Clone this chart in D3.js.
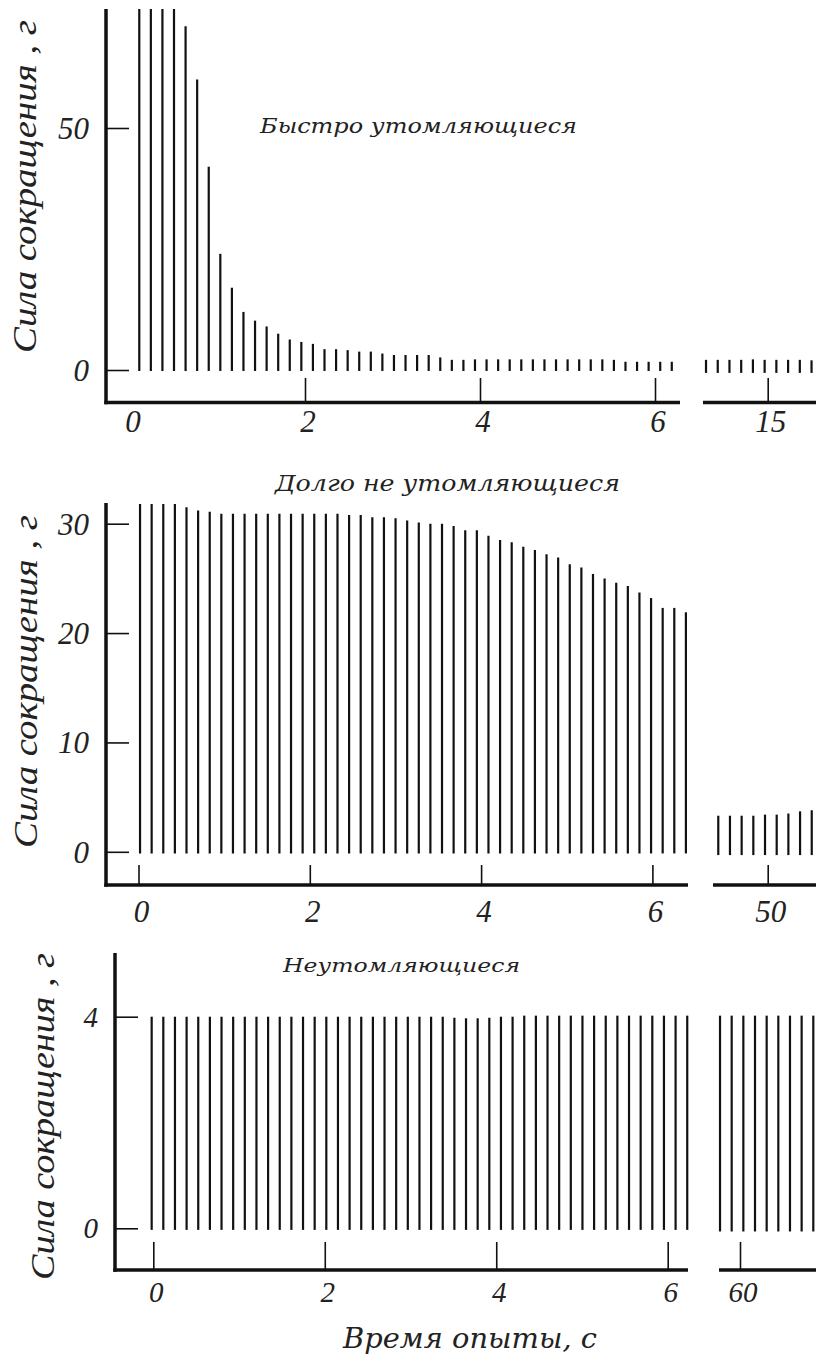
<!DOCTYPE html>
<html><head><meta charset="utf-8">
<script src="https://cdn.jsdelivr.net/npm/d3@7"></script>
<style>
body{margin:0;background:#fff}
svg{display:block}
</style>
</head><body>
<svg id="chart" width="816" height="1357"></svg>
<script>
// ---------------- DATA ----------------
const panelTitles = ["Быстро утомляющиеся", "Долго не утомляющиеся", "Неутомляющиеся"];
const yAxisTitle = "Сила сокращения , г";
const xAxisTitle = "Время опыты, с";

// force of each twitch (g), fast-fatiguing fibres, first 6 s
const fastValues = [88, 86, 84, 80, 71, 60, 42, 24, 17, 12, 10.2, 9.0, 7.5, 6.3, 5.8, 5.4,
  4.3, 4.3, 4.1, 3.8, 3.8, 3.4, 3.1, 3.1, 3.1, 3.1, 2.6, 2.1, 2.1, 2.2, 2.2, 2.2, 2.2, 2.2,
  2.2, 2.2, 2.2, 2.2, 2.2, 2.2, 2.2, 2.1, 1.7, 1.7, 1.7, 1.7, 1.7];
const fastLateValues = [2.1, 2.1, 2.1, 2.1, 2.2, 2.1, 2.1, 2.1, 2.1, 2.0];
// slowly fatiguing fibres
const slowValues = [31.8, 31.8, 31.8, 31.8, 31.5, 31.2, 31.1, 30.9, 30.9, 30.9, 30.9, 30.9,
  30.9, 30.9, 30.9, 30.9, 30.9, 30.9, 30.8, 30.8, 30.6, 30.6, 30.5, 30.3, 30.1, 30.0, 30.0,
  29.8, 29.4, 29.4, 28.9, 28.5, 28.3, 27.9, 27.6, 27.2, 26.9, 26.3, 26.0, 25.4, 25.0, 24.6,
  24.3, 23.7, 23.2, 22.3, 22.3, 21.9];
const slowLateValues = [3.3, 3.3, 3.3, 3.3, 3.4, 3.4, 3.5, 3.7, 3.8];
// non-fatiguing fibres
const nonValues = [4.0, 4.0, 4.0, 4.0, 4.0, 4.0, 4.0, 4.0, 4.0, 4.0, 4.0, 4.0, 4.0, 4.0, 4.0,
  4.0, 4.0, 4.0, 4.0, 4.0, 4.0, 4.0, 4.0, 4.0, 4.0, 4.0, 3.98, 3.97, 3.97, 3.98, 4.0, 4.0,
  4.02, 4.02, 4.02, 4.02, 4.02, 4.02, 4.02, 4.02, 4.02, 4.02, 4.02, 4.02, 4.02, 4.02, 4.02];
const nonLateValues = [4.02, 4.02, 4.02, 4.02, 4.02, 4.02, 4.02, 4.02, 4.02];

// tick labels
const fastYTicks = [0, 50];
const slowYTicks = [0, 10, 20, 30];
const nonYTicks = [0, 4];
const fastXTicks = [2, 4, 6];
const slowXTicks = [0, 2, 4, 6];
const nonXTicks = [0, 2, 4, 6];
const fastXLabels = [0, 2, 4, 6];
const fastLateTick = [15];
const slowLateTick = [50];
const nonLateTick = [60];

// stimulation timing (s): first pulse and pulse period, early and late windows
const fastTiming = {start: 0.106, period: 0.1323, lateStart: 14.295, latePeriod: 0.134};
const slowTiming = {start: 0.018, period: 0.1356, lateStart: 49.423, latePeriod: 0.1364};
const nonTiming  = {start: -0.019, period: 0.1358, lateStart: 59.767, latePeriod: 0.136};

// ---------------- LAYOUT ----------------
const panels = [
  {values: fastValues, late: fastLateValues, timing: fastTiming,
   yTicks: fastYTicks, xTicks: fastXTicks, xLabels: fastXLabels, lateTick: fastLateTick, title: panelTitles[0],
   axisX: 106, axisTop: 9, axisY: 402.5, mainEnd: 680, lateBegin: 703,
   yDom: [0, 50], yRng: [370, 128], xRng: [130, 655], pxPerS: 87.5, lateX: 767.7,
   base: -0.2, lateBase: -0.6, tickTop: 378, xLabelY: 432,
   titleX: 260, titleY: 133, titleSize: 21, titleLen: 317,
   yTitleX: 36, yTitleC: 186.5, yTitleLen: 333, labelSize: 31, clipTop: 9},
  {values: slowValues, late: slowLateValues, timing: slowTiming,
   yTicks: slowYTicks, xTicks: slowXTicks, xLabels: slowXTicks, lateTick: slowLateTick, title: panelTitles[1],
   axisX: 106, axisTop: 503, axisY: 885, mainEnd: 688, lateBegin: 713,
   yDom: [0, 30], yRng: [851.8, 523.7], xRng: [138.5, 652.4], pxPerS: 85.65, lateX: 767.7,
   base: -0.15, lateBase: -0.3, tickTop: 865, xLabelY: 922,
   titleX: 275, titleY: 491, titleSize: 22, titleLen: 345,
   yTitleX: 37, yTitleC: 681.5, yTitleLen: 333, labelSize: 31, clipTop: 0},
  {values: nonValues, late: nonLateValues, timing: nonTiming,
   yTicks: nonYTicks, xTicks: nonXTicks, xLabels: nonXTicks, lateTick: nonLateTick, title: panelTitles[2],
   axisX: 115, axisTop: 953, axisY: 1270, mainEnd: 688, lateBegin: 719,
   yDom: [0, 4], yRng: [1228.3, 1016.7], xRng: [153.3, 667.7], pxPerS: 85.73, lateX: 740,
   base: -0.03, lateBase: -0.06, tickTop: 1242, xLabelY: 1302,
   titleX: 283, titleY: 972, titleSize: 18, titleLen: 237,
   yTitleX: 54, yTitleC: 1116.5, yTitleLen: 327, labelSize: 29, clipTop: 0}
];

const svg = d3.select("#chart");
const ink = "#111";
const numFont = "'Liberation Serif', 'Times New Roman', serif";
const txtFont = "'DejaVu Serif', serif";

svg.append("defs").append("clipPath").attr("id", "clipTop")
  .append("rect").attr("x", 0).attr("y", 9).attr("width", 816).attr("height", 1348);

panels.forEach((p, pi) => {
  const g = svg.append("g");
  const y = d3.scaleLinear().domain(p.yDom).range(p.yRng);
  const x = d3.scaleLinear().domain([0, 6]).range(p.xRng);
  const lt = p.lateTick[0];
  const xl = d3.scaleLinear().domain([lt - 1, lt + 1]).range([p.lateX - p.pxPerS, p.lateX + p.pxPerS]);

  const bars = g.append("g").attr("clip-path", pi === 0 ? "url(#clipTop)" : null);
  const mainData = p.values.map((v, i) => ({t: p.timing.start + i * p.timing.period, v}));
  const lateData = p.late.map((v, i) => ({t: p.timing.lateStart + i * p.timing.latePeriod, v}));

  bars.selectAll("line.m").data(mainData).join("line").attr("class", "m")
    .attr("x1", d => x(d.t)).attr("x2", d => x(d.t))
    .attr("y1", y(p.base)).attr("y2", d => y(d.v))
    .attr("stroke", ink).attr("stroke-width", 2.2);
  bars.selectAll("line.l").data(lateData).join("line").attr("class", "l")
    .attr("x1", d => xl(d.t)).attr("x2", d => xl(d.t))
    .attr("y1", y(p.lateBase)).attr("y2", d => y(d.v))
    .attr("stroke", ink).attr("stroke-width", 2.2);

  // y axis (ticks drawn to the right of the spine)
  const yAx = d3.axisRight(y).tickValues(p.yTicks).tickSize(23).tickFormat("");
  const ya = g.append("g").attr("transform", `translate(${p.axisX},0)`).call(yAx);
  ya.select(".domain").remove();
  ya.selectAll(".tick line").attr("stroke", ink).attr("stroke-width", 1.6);
  g.append("line").attr("x1", p.axisX).attr("x2", p.axisX)
    .attr("y1", p.axisTop).attr("y2", p.axisY + 1.8)
    .attr("stroke", ink).attr("stroke-width", 3.5);
  g.selectAll("text.yl").data(p.yTicks).join("text").attr("class", "yl")
    .attr("x", p.axisX - 17).attr("y", d => y(d)).attr("dy", "0.35em")
    .attr("text-anchor", "end").attr("font-family", numFont).attr("font-style", "italic")
    .attr("font-size", p.labelSize).attr("fill", "#222").text(d => d);

  // x axes: main window and late window
  g.append("line").attr("x1", p.axisX - 1.7).attr("x2", p.mainEnd)
    .attr("y1", p.axisY).attr("y2", p.axisY).attr("stroke", ink).attr("stroke-width", 3.5);
  g.append("line").attr("x1", p.lateBegin).attr("x2", 816)
    .attr("y1", p.axisY).attr("y2", p.axisY).attr("stroke", ink).attr("stroke-width", 3.5);

  const tickLen = p.axisY - p.tickTop;
  const xa = g.append("g").attr("transform", `translate(0,${p.axisY})`)
    .call(d3.axisTop(x).tickValues(p.xTicks).tickSize(tickLen).tickFormat(""));
  xa.select(".domain").remove();
  xa.selectAll(".tick line").attr("stroke", ink).attr("stroke-width", 1.6);
  const xla = g.append("g").attr("transform", `translate(0,${p.axisY})`)
    .call(d3.axisTop(xl).tickValues(p.lateTick).tickSize(tickLen).tickFormat(""));
  xla.select(".domain").remove();
  xla.selectAll(".tick line").attr("stroke", ink).attr("stroke-width", 1.6);

  g.selectAll("text.xlab").data(p.xLabels).join("text").attr("class", "xlab")
    .attr("x", d => x(d) + 3).attr("y", p.xLabelY)
    .attr("text-anchor", "middle").attr("font-family", numFont).attr("font-style", "italic")
    .attr("font-size", p.labelSize).attr("fill", "#222").text(d => d);
  g.selectAll("text.xlate").data(p.lateTick).join("text").attr("class", "xlate")
    .attr("x", d => xl(d) + 3).attr("y", p.xLabelY)
    .attr("text-anchor", "middle").attr("font-family", numFont).attr("font-style", "italic")
    .attr("font-size", p.labelSize).attr("fill", "#222").text(d => d);

  // panel title
  g.append("text").attr("x", p.titleX).attr("y", p.titleY)
    .attr("font-family", txtFont).attr("font-style", "italic").attr("font-size", p.titleSize)
    .attr("textLength", p.titleLen).attr("lengthAdjust", "spacingAndGlyphs")
    .attr("fill", "#222").text(p.title);

  // y-axis title
  g.append("text").attr("transform", `translate(${p.yTitleX},${p.yTitleC}) rotate(-90)`)
    .attr("text-anchor", "middle").attr("font-family", numFont).attr("font-style", "italic")
    .attr("font-size", 33).attr("textLength", p.yTitleLen).attr("lengthAdjust", "spacingAndGlyphs")
    .attr("fill", "#222").text(yAxisTitle);
});

// x-axis title
svg.append("text").attr("x", 343).attr("y", 1348)
  .attr("font-family", txtFont).attr("font-style", "italic").attr("font-size", 28)
  .attr("textLength", 254).attr("lengthAdjust", "spacingAndGlyphs")
  .attr("fill", "#222").text(xAxisTitle);
</script>
</body></html>
